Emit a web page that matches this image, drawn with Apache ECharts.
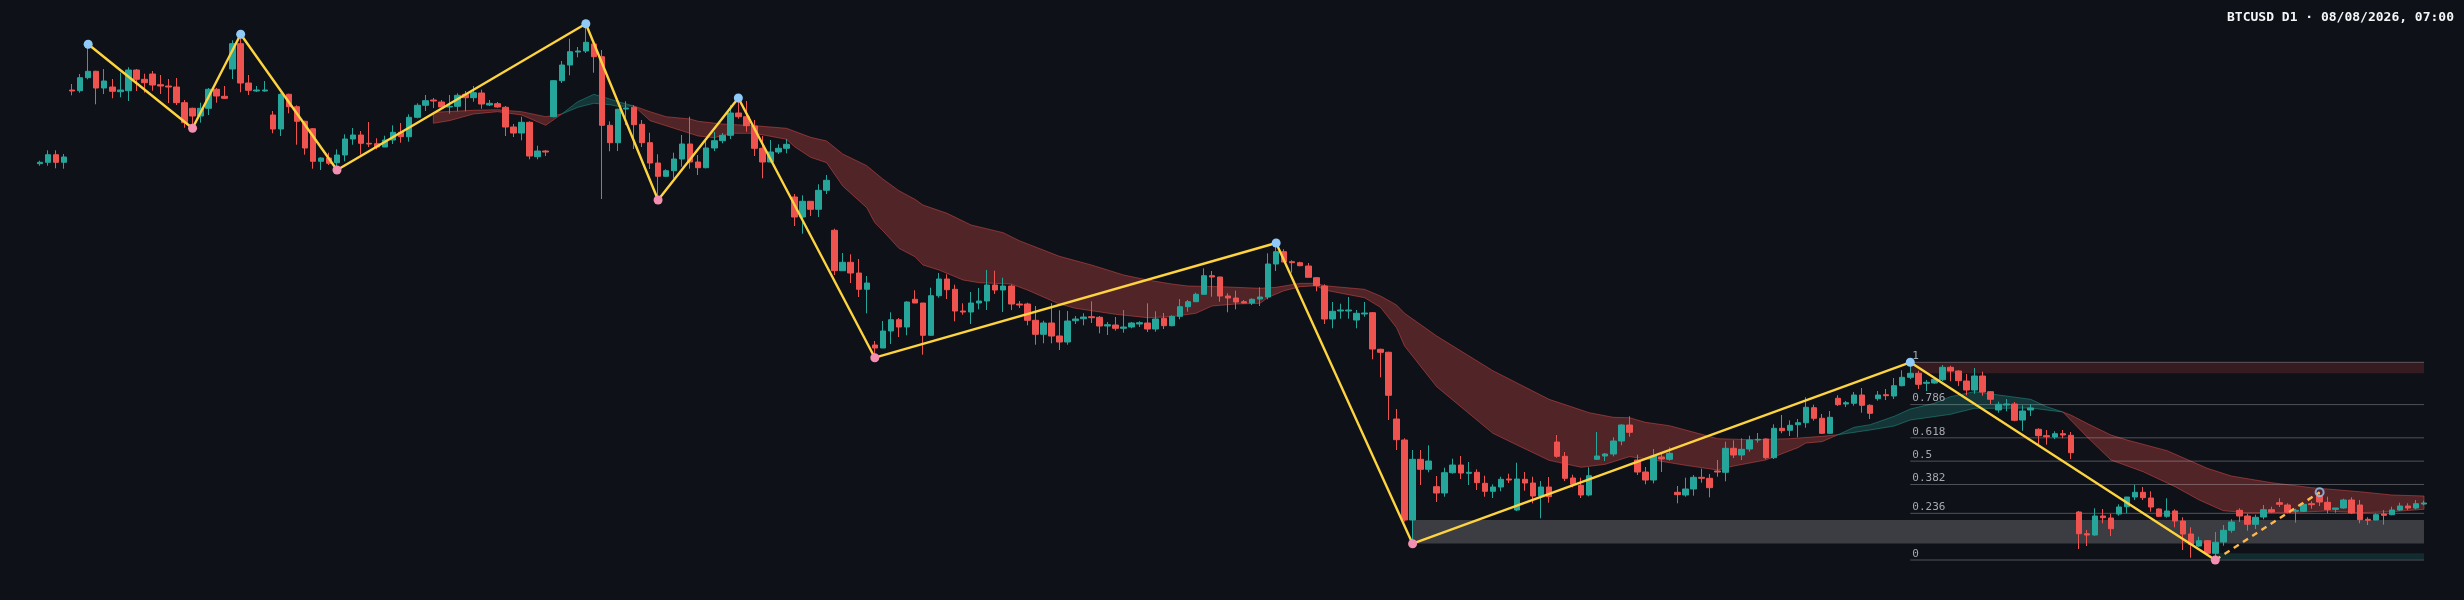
<!DOCTYPE html>
<html>
<head>
<meta charset="utf-8">
<title>BTCUSD D1</title>
<style>
    html, body { margin: 0; padding: 0; background: #0e1117; }
    #chart { width: 2464px; height: 600px; }
</style>
<script src="https://cdn.jsdelivr.net/npm/echarts@6/dist/echarts.min.js"></script>
</head>
<body>
<div id="chart"></div>
<script>
// Prices are read off the picture, in chart units (the reference shows no price axis)
var opens = [
    436.3,437.7,445.3,437.7,510,509.3,522.3,528.7,512,513,
    508.3,509.3,530,520.7,526,515.3,514,513,497.3,491.7,
    484,491.7,510.7,503.7,531,556.3,517,509,509,485,
    471,505.7,493.3,478.7,471.3,438.7,442,437.3,445,461,
    465,456.7,456.3,453,460,467.7,463.3,482.7,494.7,500,
    498,493,493.7,505.7,502.3,507,495,496.3,492.7,473,
    467,477.7,443.3,449,483.3,519.3,535,548,549,556,
    543.3,474.7,457.3,491,492.7,475.7,457.3,437,423.7,429.3,
    441,456,438,432.3,452,459.3,464.7,487,483.3,474,
    451.7,438,448,451.7,403,383,398.7,390.7,409.7,369.7,
    329.3,337.7,327,310.7,255,252,269,280.3,273,300.7,
    297,264.7,304.3,321,310.7,289,288,297,299,315,
    310,314,296,296,279.7,265.7,277,264,258,279.3,
    281.3,283.3,282.7,274,275,271.7,273,276,277,271,
    281.7,274.3,283.7,293.3,298.3,305.7,324.3,323,304,302,
    298.3,297,301,303,336,348.3,338.3,337.3,334,322.3,
    314,281,289,289,280,286,287.3,250.7,247.7,181,
    160,80,140.7,130.7,113.3,107,127.3,135,126.7,127.7,
    116.7,108.7,113,121,90,120.7,117,104,113,158,
    143.7,122,114.7,105,140.7,144,146,159,175,140,
    128,120,143,140.7,107.7,105,111,122.7,121.7,129,
    127.7,151.7,145,151,160,161,142.3,171.7,169.7,175.3,
    177.3,192.3,181.7,166.7,201.7,196,196.7,205,194.7,201.3,
    205.3,204,214.3,222.7,226.7,216.7,217,220.3,232.7,229,
    219,210,224,208.3,190,195,196,180,190,170.7,
    164.3,163,166.3,164.7,88,66.3,65,84,82,86,
    93.3,103,107.7,102,91,83.7,89,79,66,54,
    59.3,46.7,58,69.7,89.7,84,75.7,83,90.3,97.3,
    95,88.7,88.7,96.3,104,97.7,90.7,92,100,95,
    80.7,80,86,85.3,90,94,92,96
];
var closes = [
    437.7,445.3,437.7,443,509,522.3,528.7,512,519,508.7,
    510,530,520.7,517.3,515,514,513,497.3,477.3,484,
    491.7,510.7,504,501.7,556.3,517,509.7,510,510,471,
    505.7,493.3,478.7,452,438.7,442,436.7,445,461,465,
    456.7,456,453,460,467.7,463.3,482.7,494.7,499.3,499,
    493,493.7,504.7,502.3,507.3,496,496.7,493,473,467,
    477.7,444,449,448,519.3,535,548.3,549,557.7,543.3,
    474.7,457.3,490.7,492,475.3,457.3,437,423.7,429.3,441,
    456,438,432.3,452,459.3,464.7,487,483.3,474.3,451.7,
    438,448,451.7,455.7,383,398.7,390.7,409.7,419.7,329.3,
    337.7,327,310.7,317,252,269,280.3,273,298,297,
    264.7,304.3,321,310.3,289,288,297,299,315,310,
    314,296,295,279.7,265.7,277,264,258,279,281,
    283,282.3,274,275.3,271.7,273,277,277.3,271,281,
    274.3,283.7,293.3,298.3,305.7,324.3,323,304,302,298,
    297,300.7,303,336,348.3,338,337.3,334.3,322.7,314.3,
    281,288.7,290,290,286.7,287,251,247.7,204.7,160.3,
    80,140.7,130.7,139,107,127.3,135,127,127.7,117.3,
    108.7,113,120.7,120,121,117,104,113,103.3,143.7,
    121.7,115.7,105,124.3,144,146,159,175,167.7,128,
    120,144,141,146.7,105.3,111,122.7,121.7,112.3,128,
    151.7,145,150.7,160,160.7,142.3,171.7,169.3,174.7,177.3,
    192.7,181.7,166.7,182.7,195.3,197.3,205,194.7,186.7,205,
    204.3,214.3,222.7,226.7,215.7,217.7,220.7,232.7,229,219.3,
    210,224,208,200.7,195.7,196,179.7,189,192,164.3,
    163.3,166.3,165,147.3,66.3,65,84,82.3,71.3,93,
    103,107.7,102.3,93,83.7,89,79,66,55.7,59.3,
    46.7,57.7,69.7,78,84,75.7,82.7,90.3,88,95.7,
    87.7,89.7,95.7,95.3,98,90.3,92,100,87,80.3,
    79.7,85.3,84.7,90,94,92,96.3,97
];
var lows = [
    434.3,434.3,431.7,431.3,504.7,507.3,520.7,495.7,506,501.7,
    502.7,499,509,507.3,509.3,506,497,495,472.3,471.7,
    477.3,485,497.3,501,521,507.7,505,508,508.3,466.7,
    464,486.7,455.3,445.3,431.3,430,435,430,438.7,455.3,
    445.3,453,450.7,453,456,457.3,458.3,481.7,489,492,
    492.3,486.3,488.7,488.7,498.3,491.3,494,492.3,464,463,
    459.7,440.7,440.7,444,482.7,517,524.7,542.7,547,527.3,
    401,448.7,449,475,451,453,431,400,423,421.7,
    433.3,431.3,425,431.7,449,456.7,461,481.3,468.3,444,
    421.7,437.7,446,446.7,374,366.3,384,383,406,325,
    329.3,317,303,286.7,242.7,252,256,263,264.7,297,
    245.3,264,302.3,301,278.7,285.3,276,290.7,290,306,
    288,290,292,274.7,255.3,256.7,256.7,250,255.3,276,
    274.7,277,266.7,265,269.3,267.3,271.7,273,268,268.3,
    271,273.7,280.7,288.3,298,305,303.3,298.3,287.7,290.7,
    296.7,295,294,300.7,329,338,327.3,333.7,322.7,308.7,
    276,271.7,281.3,281.3,271.7,283.3,240.7,222.7,180,150,
    78.3,56,115,127.7,98,103.3,126.3,121,115,110,
    103.3,102,108.7,117,89,109.3,96.7,81.7,97.3,142.3,
    119,112.7,102,103.7,140,139,143.7,154.7,163.3,125,
    115.7,116.7,128,139.3,96.7,103.3,104.3,117.3,102.7,123.3,
    118.7,142,140,148.3,157.3,140.7,141,166.7,164,162.7,
    172.3,179.3,166,166,194,193,194.3,187.3,181,199.3,
    200,201,213.7,221,211,209,216.3,219,218.7,214,
    204.7,206.3,204.3,196,187.3,188.7,178.7,169.3,184,154.7,
    155.3,161,161.7,141,51,54,64.3,76.7,64,84.3,
    86.7,100,100,88.3,83,82.3,72.7,50,42.3,53.3,
    45,40,54.3,67.3,78,69.3,71,80.7,87.3,93,
    86.7,77.3,88,91.3,94,86.7,87.3,91.3,86,76.7,
    75,79.7,75.3,84.7,89.3,90,90.7,94.7
];
var highs = [
    439.3,449.7,449.7,446,516,526,555.7,529.3,531,521,
    527.3,532.7,531,526.3,529,525,521,522,500,492.3,
    497.3,512,512,514,559.7,565.7,525,514,519,489,
    506.7,506.3,494.7,479.3,472,442.7,447.3,450.7,465.7,472,
    469,478,461.7,464.3,474.7,477,485.7,496.7,505,502,
    500,505,506.7,509,514,510.3,500,498,494,476,
    483.3,478.7,454.3,450,520,539,561.3,553,576.3,556,
    550,478.7,491.3,498.7,494.7,480,467.3,445.7,430.7,447.3,
    465,483.3,445,460,468,467,494.7,501.7,499,480,
    464,460,455.7,461,406,404.7,398.7,415.7,425,371.3,
    347,345.7,341,324,259,279,287.7,282,298.7,309.7,
    297,312.3,327,325.7,315.3,296.7,308,312,330,329.3,
    322.3,315.7,299,297.3,294,279.3,296.7,289.7,289,284,
    286.7,298.7,284,278,283,290,278,278.7,296.7,288.7,
    287,284.7,301,300,307.3,331.7,329,323.3,306.7,309.3,
    300,301.7,312.7,346.7,356.7,350.7,339.7,338.3,337,322.7,
    315.7,298,296.3,303,290,298,288,251.3,248.3,191,
    161.7,150,150,154.7,124,132.3,141.3,144,138,130.7,
    124.3,115.7,123.3,126.3,137.3,128,123.3,119,123,165,
    148,125.3,122.3,132.7,168,147,162.7,175.7,183.7,145.3,
    133,151,146.7,152.7,114,122.3,125,131.3,126,140,
    158.3,159.7,161.7,164.3,167,161.7,175.7,185,179.7,181,
    202.7,195.3,186,189,204.7,199,208,212,195.7,209,
    211,222,229.7,236.7,229.3,220,222.3,235,234.3,229.7,
    226,232,228.3,209,198.3,201,198,194.7,195.7,171.7,
    170,168.7,170,168,89,70,91.7,91,86,95.7,
    103,115.3,113,108.7,91.7,101.7,90.7,82.7,72.7,63.3,
    60,68,75,80.7,91.7,86.3,85.3,95,93.3,101.7,
    96.7,91.3,96.7,98.7,107.7,103.3,92,101.3,102.7,100,
    82.7,86.7,90,93.3,97.3,96.7,100,99.3
];

// Slow and fast averages of the cloud, read at their visible corners
var slowIdx = [49,54,57,60,63,65,67,69,71,72,74,76,78,81,82,85,89,93,96,98,100,103,105,107,109,110,113,116,120,122,127,131,135,138,141,143,147,152,154,157,159,160,165,167,169,170,174,181,188,193,196,198,200,203,207,209,213,218,222,224,228,231,233,238,241,244,248,252,253,255,258,260,265,270,273,278,283,289,293,297];
var slowVals = [487.7,489.7,490.3,488.3,483.3,486,492.7,496.7,495.3,493.7,494,488.3,483.3,481,478.7,476,474.3,471.7,462.7,459,446,434.3,421,409.3,400.7,395,386.7,375,367.3,359.3,343.7,335,325,320,316,314,313.3,311.7,312.7,316.7,316.7,314.3,310.7,304,295,286.7,264,229.3,200.7,187.3,182.7,182.3,177.7,174.3,165.7,161.3,160.3,161.3,163.7,165.3,170,174,180,185.7,191.7,191.7,192,188,185,176.7,165,160,149.3,131.7,124,117.3,112.3,108.3,105,104];
var fastIdx = [49,51,54,57,60,63,65,67,69,71,72,74,76,79,82,84,86,89,93,94,96,98,100,103,104,105,107,109,110,112,115,117,121,123,127,129,134,138,141,144,146,149,152,153,155,157,159,160,165,167,169,170,174,177,181,184,188,192,195,198,200,205,209,211,215,218,219,220,222,224,226,228,231,233,236,238,241,244,248,250,252,255,258,262,266,269,272,275,281,285,289,293,297];
var fastVals = [476.7,479.3,486,488.3,485,474.7,486,498.3,505.7,501,498.3,494,479.3,471.7,464,462.3,466.7,466.7,460.7,453.3,442.7,437.3,414,392.3,377.3,369.3,351.7,343.3,335,330,320,317.3,316,310,296,291.7,285.7,282.3,283.3,286.7,294,296,296.7,302.7,309.3,313.3,314.3,310,302.3,292.7,272.3,254,213.3,193.3,166.7,155,139.7,132.7,135.7,143.3,141.3,134.7,130,134,140,149.3,152.3,157,158.3,165.3,172.7,175.3,183.7,191,196.7,203.3,208.3,205,200.7,193.3,188,163.3,140,128.3,113.3,100,89.3,87.3,87.7,89,87.3,88.3,90.7];
var cloudStart = [49,65,74,224,252];
var cloudEnd = [65,74,224,252,297];
var cloudBull = [0,1,0,1,0];

// Zigzag pivots
var zigIdx = [6,19,25,37,68,77,87,104,154,171,233,271];
var zigVals = [555.7,471.7,565.7,430,576.3,400,502,242.3,357,56.3,237.7,40];
var liveIdx = [271,284];
var liveVals = [40,107.7];

// Fibonacci retracement of the last leg
var fibLevels = [1,0.786,0.618,0.5,0.382,0.236,0];
var fibLabels = ['1','0.786','0.618','0.5','0.382','0.236','0'];
var fibStart = 233;
var fibEnd = 297;

// Zones
var zoneStart = [233,171,271];
var zoneEnd = [297,297,297];
var zoneTop = [237.7,80,46.7];
var zoneBottom = [226.7,56.5,40.7];

var titleText = 'BTCUSD D1 \u00b7 08/08/2026, 07:00';

var UP = '#26a69a';
var DOWN = '#ef5350';
var MONO = '"DejaVu Sans Mono", monospace';

var categories = [];
var candles = [];
for (var i = 0; i < opens.length; i++) {
    categories.push(i);
    candles.push([opens[i], closes[i], lows[i], highs[i]]);
}

var zigData = [];
for (var j = 0; j < zigIdx.length; j++) {
    zigData.push({
        value: [zigIdx[j], zigVals[j]],
        itemStyle: { color: j % 2 == 0 ? '#90caf9' : '#f48fb1' }
    });
}

var fibZero = zigVals[11];
var fibOne = zigVals[10];

function pickRange(idx, vals, from, to) {
    var out = [];
    for (var k = 0; k < idx.length; k++) {
        if (idx[k] >= from && idx[k] <= to) {
            out.push([idx[k], vals[k]]);
        }
    }
    return out;
}

var chart = echarts.init(document.getElementById('chart'));

chart.setOption({
    backgroundColor: '#0e1117',
    animation: false,
    title: {
        text: titleText,
        right: 10,
        top: 11,
        padding: 0,
        textStyle: { fontFamily: MONO, fontSize: 13, fontWeight: 'bold', color: '#f4f6f8' }
    },
    grid: { left: 36, right: 36, top: 0, bottom: 0 },
    xAxis: { type: 'category', data: categories, show: false },
    yAxis: { type: 'value', min: 0, max: 600, show: false },
    series: [
        {
            // zones
            type: 'custom',
            z: 1,
            silent: true,
            data: zoneStart.map(function (s, n) { return [s, zoneEnd[n], zoneTop[n], zoneBottom[n], n]; }),
            renderItem: function (params, api) {
                var a = api.coord([api.value(0), api.value(2)]);
                var b = api.coord([api.value(1), api.value(3)]);
                var fills = ['rgba(239,83,80,0.18)', 'rgba(255,255,255,0.19)', 'rgba(38,166,154,0.18)'];
                return {
                    type: 'rect',
                    shape: { x: a[0], y: a[1], width: b[0] - a[0], height: b[1] - a[1] },
                    style: { fill: fills[api.value(4)] }
                };
            }
        },
        {
            // cloud between the two averages
            type: 'custom',
            z: 2,
            silent: true,
            data: cloudStart.map(function (s, n) { return [s, cloudEnd[n], cloudBull[n]]; }),
            renderItem: function (params, api) {
                var from = api.value(0);
                var to = api.value(1);
                var bull = api.value(2);
                var upper = pickRange(slowIdx, slowVals, from, to);
                var lower = pickRange(fastIdx, fastVals, from, to).reverse();
                var pts = upper.concat(lower).map(function (p) { return api.coord(p); });
                return {
                    type: 'polygon',
                    shape: { points: pts },
                    style: {
                        fill: bull ? 'rgba(38,166,154,0.25)' : 'rgba(239,83,80,0.3)',
                        stroke: bull ? 'rgba(38,166,154,0.45)' : 'rgba(239,83,80,0.45)',
                        lineWidth: 1
                    }
                };
            }
        },
        {
            // fib levels with their labels
            type: 'custom',
            z: 3,
            silent: true,
            data: fibLevels.map(function (lv, n) { return [fibZero + (fibOne - fibZero) * lv, n]; }),
            renderItem: function (params, api) {
                var a = api.coord([fibStart, api.value(0)]);
                var b = api.coord([fibEnd, api.value(0)]);
                return {
                    type: 'group',
                    children: [
                        {
                            type: 'line',
                            shape: { x1: a[0], y1: a[1], x2: b[0], y2: b[1] },
                            style: { stroke: 'rgba(200,205,210,0.35)', lineWidth: 1 }
                        },
                        {
                            type: 'text',
                            style: {
                                x: a[0] + 2,
                                y: a[1] - 6,
                                text: fibLabels[api.value(1)],
                                fill: '#a4aab0',
                                font: '11px ' + MONO,
                                verticalAlign: 'middle'
                            }
                        }
                    ]
                };
            }
        },
        {
            type: 'candlestick',
            z: 4,
            barWidth: 6,
            data: candles,
            itemStyle: {
                color: UP,
                color0: DOWN,
                borderColor: UP,
                borderColor0: DOWN,
                borderWidth: 1
            }
        },
        {
            type: 'line',
            z: 5,
            data: zigData,
            symbol: 'circle',
            symbolSize: 9,
            showSymbol: true,
            showAllSymbol: true,
            lineStyle: { color: '#fdd33f', width: 2.4 }
        },
        {
            type: 'line',
            z: 5,
            data: liveIdx.map(function (x, n) { return [x, liveVals[n]]; }),
            symbol: 'none',
            showSymbol: false,
            lineStyle: { color: '#ffb74d', width: 2.4, type: [6, 5] }
        },
        {
            type: 'scatter',
            z: 6,
            symbolSize: 8,
            data: [[liveIdx[1], liveVals[1]]],
            itemStyle: { color: 'rgba(0,0,0,0)', borderColor: '#90caf9', borderWidth: 2 }
        }
    ]
});

window.addEventListener('resize', function () {
    chart.resize();
});
</script>
</body>
</html>
